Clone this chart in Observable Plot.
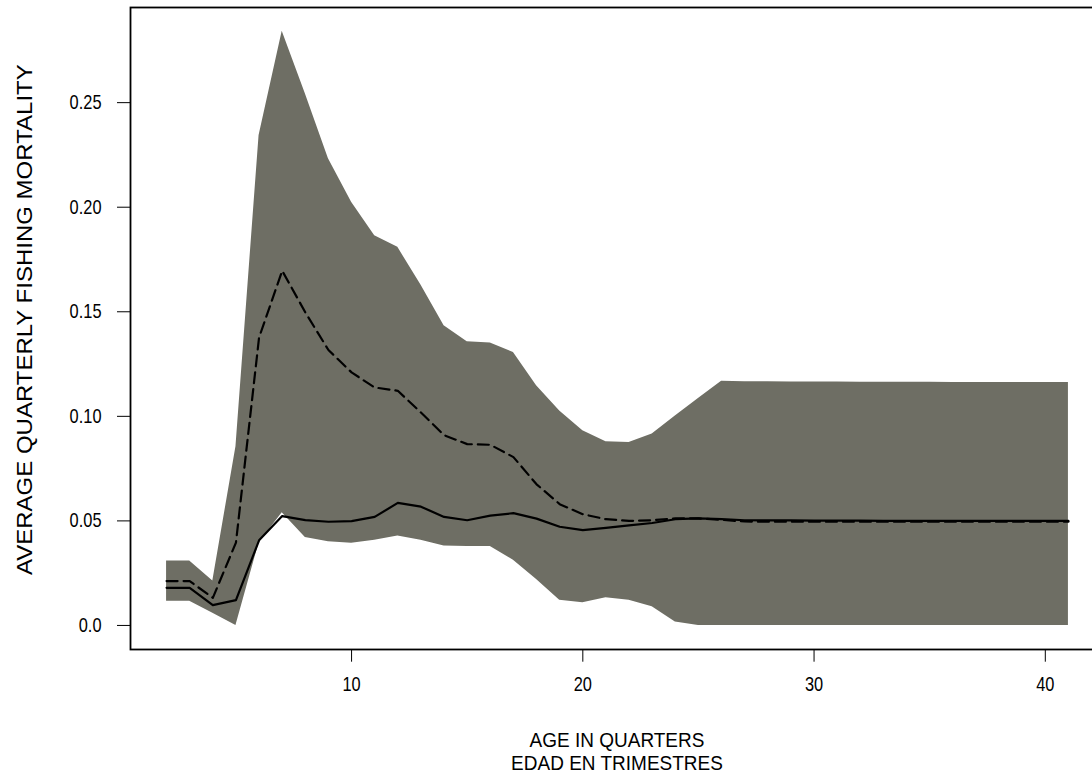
<!DOCTYPE html>
<html>
<head>
<meta charset="utf-8">
<script src="https://cdn.jsdelivr.net/npm/d3@7"></script>
<script src="https://cdn.jsdelivr.net/npm/@observablehq/plot@0.6"></script>
<style>
  html, body { margin: 0; padding: 0; background: #fff; overflow: hidden; }
  #chart { width: 1092px; height: 777px; overflow: hidden; position: relative; }
</style>
</head>
<body>
<div id="chart"></div>
<script>
const ages = [2,3,4,5,6,7,8,9,10,11,12,13,14,15,16,17,18,19,20,21,22,23,24,25,26,27,28,29,30,31,32,33,34,35,36,37,38,39,40,41];
const upperBound = [0.0308,0.0308,0.0212,0.0855,0.2343,0.2841,0.2543,0.2232,0.2024,0.1864,0.1808,0.1628,0.1433,0.1357,0.1351,0.1305,0.1146,0.1026,0.0931,0.0878,0.0875,0.0915,0.1002,0.1085,0.1168,0.1165,0.1165,0.1164,0.1164,0.1164,0.1163,0.1163,0.1163,0.1163,0.1162,0.1162,0.1162,0.1162,0.1162,0.1162];
const lowerBound = [0.0116,0.0116,0.0058,0.0000,0.0396,0.0539,0.0420,0.0400,0.0393,0.0407,0.0428,0.0407,0.0380,0.0377,0.0377,0.0312,0.0220,0.0120,0.0108,0.0132,0.0120,0.0089,0.0017,0.0000,0.0000,0.0000,0.0000,0.0000,0.0000,0.0000,0.0000,0.0000,0.0000,0.0000,0.0000,0.0000,0.0000,0.0000,0.0000,0.0000];
const solidSeries = [0.0180,0.0180,0.0097,0.0121,0.0407,0.0523,0.0504,0.0496,0.0499,0.0519,0.0586,0.0568,0.0519,0.0503,0.0525,0.0537,0.0511,0.0472,0.0456,0.0467,0.0479,0.0490,0.0508,0.0512,0.0508,0.0503,0.0502,0.0502,0.0501,0.0501,0.0501,0.0500,0.0500,0.0500,0.0500,0.0500,0.0500,0.0500,0.0500,0.0500];
const dashedSeries = [0.0212,0.0212,0.0132,0.0396,0.1377,0.1696,0.1497,0.1317,0.1210,0.1138,0.1122,0.1018,0.0910,0.0867,0.0864,0.0805,0.0675,0.0580,0.0532,0.0508,0.0500,0.0503,0.0512,0.0512,0.0505,0.0497,0.0496,0.0496,0.0496,0.0496,0.0496,0.0496,0.0496,0.0496,0.0496,0.0496,0.0496,0.0496,0.0496,0.0496];
const xTicks = [10, 20, 30, 40];
const yTicks = [0, 0.05, 0.10, 0.15, 0.20, 0.25];
const yTickLabels = ["0.0", "0.05", "0.10", "0.15", "0.20", "0.25"];
const xTitle = ["AGE IN QUARTERS", "EDAD EN TRIMESTRES"];
const yTitle = "AVERAGE QUARTERLY FISHING MORTALITY";

const table = ages.map((a, i) => ({age: a, lo: lowerBound[i], hi: upperBound[i], solid: solidSeries[i], dashed: dashedSeries[i]}));

const font = "'Liberation Sans', Arial, Helvetica, sans-serif";
const squeeze = 0.82;

const plot = Plot.plot({
  width: 1092,
  height: 777,
  marginLeft: 130,
  marginRight: -12,
  marginTop: 7,
  marginBottom: 128,
  x: {domain: [0.44, 42.56]},
  y: {domain: [-0.0115, 0.2955]},
  style: {background: "white", fontFamily: font, overflow: "visible"},
  marks: [
    Plot.areaY(table, {x: "age", y1: "lo", y2: "hi", fill: "#6e6e64", curve: "linear"}),
    Plot.lineY(table, {x: "age", y: "dashed", stroke: "black", strokeWidth: 2.2, strokeDasharray: "11,6"}),
    Plot.lineY(table, {x: "age", y: "solid", stroke: "black", strokeWidth: 2.2}),
    Plot.frame({stroke: "black", strokeWidth: 1.8}),
    Plot.axisX(xTicks, {tickSize: 12.7, tickPadding: 15, fontSize: 20, label: null, stroke: "black", strokeWidth: 1}),
    Plot.axisY(yTicks, {tickSize: 13, tickPadding: 16, fontSize: 20, label: null, tickFormat: (d) => yTickLabels[yTicks.indexOf(d)], stroke: "black", strokeWidth: 1})
  ]
});

const svg = d3.select(plot);
svg.selectAll("text").attr("fill", "black").style("font-family", font);

// Narrow the tick labels horizontally about their own anchor point, as in the reference
svg.selectAll("g[aria-label$='tick label'] text").each(function() {
  const t = d3.select(this);
  const tr = t.attr("transform");
  if (tr) {
    t.attr("transform", tr + ` scale(${squeeze},1)`);
  } else {
    const x = +(t.attr("x") || 0), y = +(t.attr("y") || 0);
    t.attr("x", null).attr("y", null)
     .attr("transform", `translate(${x},${y}) scale(${squeeze},1)`);
  }
});

const xs = plot.scale("x");
const ys = plot.scale("y");
const cx = (xs.apply(0.44) + xs.apply(42.56)) / 2;

const gTitles = svg.append("g").attr("fill", "black");
gTitles.append("text")
  .attr("transform", `translate(${cx},747) scale(0.95,1)`)
  .attr("text-anchor", "middle")
  .style("font-family", font).style("font-size", "20px")
  .text(xTitle[0]);
gTitles.append("text")
  .attr("transform", `translate(${cx},770) scale(0.95,1)`)
  .attr("text-anchor", "middle")
  .style("font-family", font).style("font-size", "20px")
  .text(xTitle[1]);

gTitles.append("text")
  .attr("transform", `translate(32,${ys.apply(0.146)}) scale(0.9,1) rotate(-90)`)
  .attr("text-anchor", "middle")
  .style("font-family", font).style("font-size", "24px")
  .text(yTitle);

document.getElementById("chart").appendChild(plot);
</script>
</body>
</html>
